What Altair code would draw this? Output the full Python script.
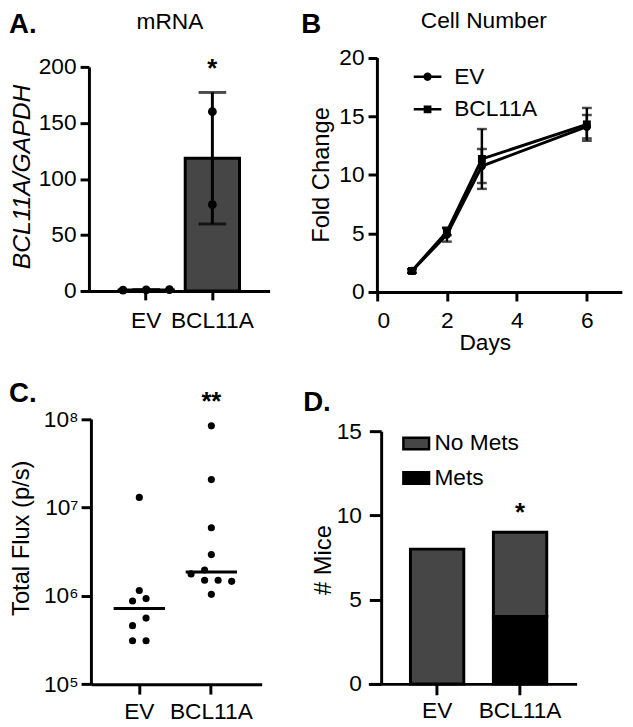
import altair as alt
import pandas as pd

FONT = "Liberation Sans"
W, H = 625, 719

# ---------------- data ----------------
groups = ["EV", "BCL11A"]

# Panel A: mRNA (BCL11A/GAPDH)
ev_mrna = [0.8, 1.0, 1.2]
bcl_mrna = [160.0, 77.0]
ev_mrna_col = [-1, 0, 1]
bcl_mrna_col = [0, 0]

# Panel B: cell number fold change
days = [1, 2, 3, 6]
ev_fold = [1.8, 4.9, 10.75, 14.1]
ev_fold_sd = [0.15, 0.6, 1.45, 1.0]
bcl_fold = [1.8, 5.15, 11.35, 14.3]
bcl_fold_sd = [0.15, 0.3, 2.55, 1.4]

# Panel C: total flux
ev_flux = [1.3e7, 1.15e6, 8.75e5, 9.3e5, 5.6e5, 4.6e5, 3.1e5, 3.1e5]
ev_flux_col = [0, 0, -0.5, 0.5, 0.5, -0.5, -0.5, 0.5]
bcl_flux = [8.4e7, 2.07e7, 5.9e6, 2.93e6, 1.77e6, 1.96e6, 1.5e6, 1.5e6, 1.46e6, 1.04e6]
bcl_flux_col = [0, 0, 0, 0, -1.5, -0.5, -0.5, 0.5, 1.5, 0]

# Panel D: mice with / without metastases
statuses = ["No Mets", "Mets"]
mets = [0, 4]
no_mets = [8, 5]

SUP = "['\u2070','\u00b9','\u00b2','\u00b3','\u2074','\u2075','\u2076','\u2077','\u2078','\u2079']"


def yaxis(title, offset, values, tick, pad, tx, ty, size=24, italic=False, expr=None):
    kw = dict(title=title, orient="left", offset=offset, values=values, tickSize=tick,
              labelPadding=pad, titleX=tx, titleY=ty, titleAngle=270, titleAlign="center",
              titleBaseline="middle", titleFontSize=size, titleFontWeight="normal")
    if italic:
        kw["titleFontStyle"] = "italic"
    if expr:
        kw["labelExpr"] = expr
    return alt.Axis(**kw)


def xaxis(offset, tick, pad, **kw):
    return alt.Axis(orient="bottom", offset=offset, tickSize=tick, labelPadding=pad,
                    labelAngle=0, **kw)


# ---------------- Panel A ----------------
dfA = pd.DataFrame({
    "group": ["EV"] * len(ev_mrna) + ["BCL11A"] * len(bcl_mrna),
    "value": ev_mrna + bcl_mrna,
    "col": ev_mrna_col + bcl_mrna_col,
})
xA = alt.X("group:N", sort=groups,
           scale=alt.Scale(domain=groups, range=[77, 265], paddingInner=0.179,
                           paddingOuter=0.492, align=0.538),
           axis=xaxis(282 - H, 9, 10, title=None))
yA_scale = alt.Scale(domain=[0, 200], range=[282, 55], nice=False)
yA_axis = yaxis("BCL11A/GAPDH", -82, [0, 50, 100, 150, 200], 9, 4, -68, 166,
                size=25, italic=True)

barsA = alt.Chart(dfA).mark_bar(color="#464646", stroke="black", strokeWidth=3).encode(
    x=xA, y=alt.Y("mean(value):Q", scale=yA_scale, axis=yA_axis))
errA = alt.Chart(dfA).mark_errorbar(extent="stdev", ticks=True, size=28, thickness=3,
                                    color="black").encode(
    x=xA, y=alt.Y("value:Q", scale=yA_scale, axis=yA_axis))
ptsA = alt.Chart(dfA).mark_circle(size=80, color="black", opacity=1).encode(
    x=xA,
    xOffset=alt.XOffset("col:Q", scale=alt.Scale(domain=[-1.17, 1.17], nice=False)),
    y=alt.Y("value:Q", scale=yA_scale, axis=yA_axis))
starA = alt.Chart(pd.DataFrame({"group": ["BCL11A"], "y": [191], "t": ["*"]})).mark_text(
    fontSize=26, fontWeight="bold", baseline="alphabetic", color="black").encode(
    x=xA, y=alt.Y("y:Q", scale=yA_scale, axis=yA_axis), text="t:N")
panelA = alt.layer(barsA, errA, ptsA, starA).resolve_scale(xOffset="independent")

# ---------------- Panel B ----------------
dfB = pd.DataFrame({
    "day": days * 2,
    "group": ["EV"] * len(days) + ["BCL11A"] * len(days),
    "mean": ev_fold + bcl_fold,
    "sd": ev_fold_sd + bcl_fold_sd,
})
xB = alt.X("day:Q", scale=alt.Scale(domain=[0, 7], range=[373.7, 621.8], nice=False, zero=False),
           axis=xaxis(283.1 - H, 9, 9, title="Days", values=[0, 2, 4, 6], titleX=483,
                      titleY=58, titleBaseline="alphabetic", titleAlign="center",
                      titleFontSize=23, titleFontWeight="normal"))
yB_scale = alt.Scale(domain=[0, 20], range=[283.1, 45.5], nice=False)
yB_axis = yaxis("Fold Change", -373.7, [0, 5, 10, 15, 20], 9, 4, -56, 164)

lineB = alt.Chart(dfB).mark_line(color="black", strokeWidth=3).encode(
    x=xB, y=alt.Y("mean:Q", scale=yB_scale, axis=yB_axis), detail="group:N")
errB = alt.Chart(dfB).transform_calculate(
    lo="datum.mean - datum.sd", hi="datum.mean + datum.sd").mark_errorbar(
    ticks=True, size=10, thickness=2.5, color="black").encode(
    x=xB, y=alt.Y("lo:Q", scale=yB_scale, axis=yB_axis), y2="hi:Q")
ptsEV = alt.Chart(dfB).transform_filter("datum.group == 'EV'").mark_point(
    shape="circle", filled=True, size=70, color="black", opacity=1).encode(
    x=xB, y=alt.Y("mean:Q", scale=yB_scale, axis=yB_axis))
ptsBCL = alt.Chart(dfB).transform_filter("datum.group == 'BCL11A'").mark_point(
    shape="square", filled=True, size=64, color="black", opacity=1).encode(
    x=xB, y=alt.Y("mean:Q", scale=yB_scale, axis=yB_axis))
path_ev = "M-1,-0.09H1V0.09H-1Z M-0.3,0A0.3,0.3 0 1,1 0.3,0A0.3,0.3 0 1,1 -0.3,0Z"
path_bcl = "M-1,-0.09H1V0.09H-1Z M-0.28,-0.28H0.28V0.28H-0.28Z"
legB = alt.Chart(dfB).transform_filter("false").mark_point(
    filled=True, color="black", opacity=1, size=784).encode(
    x=xB, y=alt.Y("mean:Q", scale=yB_scale, axis=yB_axis),
    shape=alt.Shape("group:N", scale=alt.Scale(domain=groups, range=[path_ev, path_bcl]),
                    legend=alt.Legend(title=None, orient="none", legendX=411, legendY=51,
                                      symbolSize=784, symbolFillColor="black",
                                      symbolStrokeWidth=0, symbolOpacity=1,
                                      labelFontSize=23, labelOffset=13, rowPadding=7,
                                      padding=0)))
panelB = alt.layer(lineB, errB, ptsEV, ptsBCL, legB)

# ---------------- Panel C ----------------
dfC = pd.DataFrame({
    "group": ["EV"] * len(ev_flux) + ["BCL11A"] * len(bcl_flux),
    "flux": ev_flux + bcl_flux,
    "col": ev_flux_col + bcl_flux_col,
})
xC = alt.X("group:N", sort=groups,
           scale=alt.Scale(domain=groups, range=[84, 257], paddingInner=0,
                           paddingOuter=0.185, align=0.463),
           axis=xaxis(680.3 - H, 10, 7, title=None))
yC_scale = alt.Scale(type="log", domain=[1e5, 1e8], range=[680.3, 411.8], nice=False)
yC_axis = yaxis("Total Flux (p/s)", -84, [1e5, 1e6, 1e7, 1e8], 10, 3, -70, 532,
                expr="'10' + " + SUP + "[round(log(datum.value)/LN10)]")

ptsC = alt.Chart(dfC).mark_circle(size=52, color="black", opacity=1).encode(
    x=xC,
    xOffset=alt.XOffset("col:Q", scale=alt.Scale(domain=[-2.664, 2.664], nice=False)),
    y=alt.Y("flux:Q", scale=yC_scale, axis=yC_axis))
medC = alt.Chart(dfC).mark_tick(color="black", thickness=3, size=52, opacity=1,
                                orient="horizontal").encode(
    x=xC, y=alt.Y("median(flux):Q", scale=yC_scale, axis=yC_axis))
starC = alt.Chart(pd.DataFrame({"group": ["BCL11A"], "y": [1.27e8], "t": ["**"]})).mark_text(
    fontSize=26, fontWeight="bold", baseline="alphabetic", color="black").encode(
    x=xC, y=alt.Y("y:Q", scale=yC_scale, axis=yC_axis), text="t:N")
panelC = alt.layer(ptsC, medC, starC).resolve_scale(xOffset="independent")

# ---------------- Panel D ----------------
dfD = pd.DataFrame({
    "group": groups * 2,
    "status": ["Mets"] * len(groups) + ["No Mets"] * len(groups),
    "count": mets + no_mets,
})
xD = alt.X("group:N", sort=groups,
           scale=alt.Scale(domain=groups, range=[365, 576], paddingInner=0.357,
                           paddingOuter=0.434, align=0.585),
           axis=xaxis(680 - H, 11, 5, title=None))
yD_scale = alt.Scale(domain=[0, 15], range=[680, 424], nice=False)
yD_axis = yaxis("# Mice", -378, [0, 5, 10, 15], 12, 8, -58, 554)

barsD = alt.Chart(dfD).transform_filter("datum.count > 0").mark_bar(
    stroke="black", strokeWidth=3).encode(
    x=xD,
    y=alt.Y("count:Q", stack="zero", scale=yD_scale, axis=yD_axis),
    color=alt.Color("status:N", scale=alt.Scale(domain=statuses, range=["#464646", "#000000"]),
                    legend=alt.Legend(title=None, orient="none", legendX=399, legendY=422,
                                      symbolType="M-1,-0.45H1V0.45H-1Z", symbolSize=676,
                                      symbolStrokeColor="black", symbolStrokeWidth=2.5,
                                      symbolOpacity=1, labelFontSize=23, labelOffset=4,
                                      rowPadding=8, padding=0)),
    order=alt.Order("status:N", sort="ascending"))
starD = alt.Chart(pd.DataFrame({"group": ["BCL11A"], "y": [9.64], "t": ["*"]})).mark_text(
    fontSize=26, fontWeight="bold", baseline="alphabetic", color="black").encode(
    x=xD, y=alt.Y("y:Q", scale=yD_scale, axis=yD_axis), text="t:N")
panelD = alt.layer(barsD, starD)


# ---------------- panel letters and titles ----------------
def label(txt, x, y, size, weight="normal", align="left"):
    return alt.Chart(pd.DataFrame({"t": [txt]})).mark_text(
        fontSize=size, fontWeight=weight, align=align, baseline="alphabetic",
        color="black").encode(text="t:N", x=alt.value(x), y=alt.value(y))


notes = [
    label("A.", 1, 21, 28, "bold"),
    label("mRNA", 164, 17, 23, align="center"),
    label("B", 297, 21, 28, "bold"),
    label("Cell Number", 482, 16, 23, align="center"),
    label("C.", 1, 394, 28, "bold"),
    label("D.", 299, 404, 28, "bold"),
]

chart = alt.layer(panelA, panelB, panelC, panelD, *notes).resolve_scale(
    x="independent", y="independent", xOffset="independent",
    color="independent", shape="independent"
).properties(
    width=W, height=H, padding=0, autosize=alt.AutoSizeParams(type="none")
).configure(font=FONT).configure_axis(
    labelFont=FONT, titleFont=FONT, labelColor="black", titleColor="black",
    domainColor="black", tickColor="black", domainWidth=3, tickWidth=3,
    grid=False, labelFontSize=23
).configure_legend(labelFont=FONT, labelColor="black").configure_view(stroke=None)

chart.save("out.html", embed_options={"renderer": "svg", "actions": False})
